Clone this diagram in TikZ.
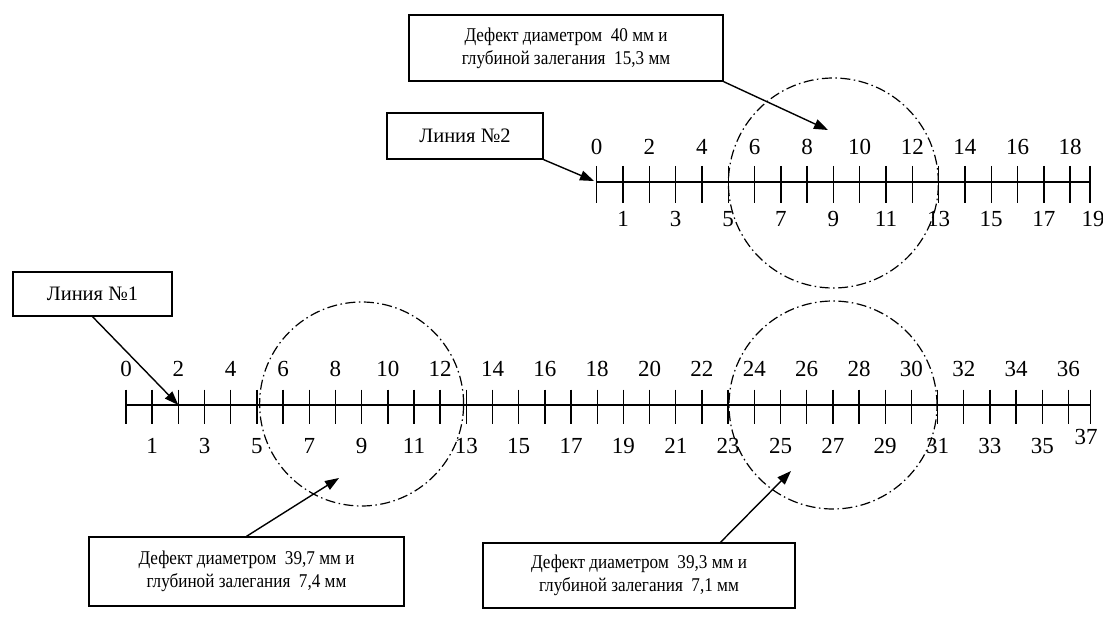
\documentclass[tikz,border=0pt]{standalone}
\usepackage{fontspec}
\setmainfont{Liberation Serif}
\newfontfamily\narrowserif[FakeStretch=0.88]{Liberation Serif}
\usetikzlibrary{arrows.meta,calc}
\begin{document}
\begin{tikzpicture}[x=1pt,y=-1pt,
  boxed/.style={draw,line width=1.3pt,inner sep=0pt,align=center,font=\narrowserif\fontsize{19.5}{23}\selectfont},
  linebox/.style={draw,line width=1.3pt,inner sep=0pt,align=center,font=\fontsize{20.5}{24}\selectfont},
  num/.style={inner sep=0pt,font=\fontsize{23}{27}\selectfont},
  tickline/.style={line width=1.4pt},
  axisline/.style={line width=1.8pt},
  arr/.style={line width=1.4pt,-{Triangle[length=14pt,width=10pt]}},
  zone/.style={draw,circle,inner sep=0pt,line width=1.2pt,dash pattern=on 10pt off 3.5pt on 1.5pt off 3.5pt}]
\useasboundingbox (0,0) rectangle (1103,628);

% ---- Line 2 ----
\foreach \i in {0,...,18}{
  \pgfmathsetmacro\xx{596.7+26.3*\i}
  \coordinate (b\i) at (\xx,182.3);
  \draw[tickline] (\xx,166) -- (\xx,203);
  \ifodd\i \node[num] (nb\i) at (\xx,219) {\i};\else \node[num] (nb\i) at (\xx,147) {\i};\fi
}
\coordinate (b19) at (1090,182.3);
\draw[tickline] (1090,166) -- (1090,203);
\node[num] (nb19) at (1093,219) {19};
\draw[axisline] (b0) -- (b19);

% ---- Line 1 ----
\foreach \i in {0,...,36}{
  \pgfmathsetmacro\xx{126+26.18*\i}
  \coordinate (a\i) at (\xx,405);
  \draw[tickline] (\xx,389.5) -- (\xx,424);
  \ifodd\i \node[num] (na\i) at (\xx,446) {\i};\else \node[num] (na\i) at (\xx,369) {\i};\fi
}
\coordinate (a37) at (1090.7,405);
\draw[tickline] (1090.7,389.5) -- (1090.7,424);
\node[num] (na37) at (1086,437) {37};
\draw[axisline] (a0) -- (a37);

% ---- defect zones ----
\node[zone,minimum size=210pt] (z2) at (833.4,183) {};
\node[zone,minimum size=204pt] (z1a) at (361.6,404) {};
\node[zone,minimum size=208pt] (z1b) at (833,405) {};

% ---- boxes ----
\node[boxed,minimum width=314pt,minimum height=66pt] (top) at (566,48)
  {Дефект диаметром\ \ 40 мм и\\глубиной залегания\ \ 15,3 мм};
\node[linebox,minimum width=156pt,minimum height=46pt] (l2) at (465,136) {Линия №2};
\node[linebox,minimum width=159pt,minimum height=44pt] (l1) at (92.5,294) {Линия №1};
\node[boxed,minimum width=315pt,minimum height=69pt] (d1) at (246.5,571.5)
  {Дефект диаметром\ \ 39,7 мм и\\глубиной залегания\ \ 7,4 мм};
\node[boxed,minimum width=312pt,minimum height=65pt] (d2) at (639,575.5)
  {Дефект диаметром\ \ 39,3 мм и\\глубиной залегания\ \ 7,1 мм};

% ---- arrows ----
\coordinate (tipTop) at (828,130);
\coordinate (tipL2) at (594,181);
\coordinate (tipD1) at (339,478);
\coordinate (tipD2) at (791,471);
\coordinate (startD2) at ($(d2.north west)!0.76!(d2.north east)$);
\draw[arr] (top.south east) -- (tipTop);
\draw[arr] (l2.south east) -- (tipL2);
\draw[arr] (l1.south) -- (a2);
\draw[arr] (d1.north) -- (tipD1);
\draw[arr] (startD2) -- (tipD2);
\end{tikzpicture}
\end{document}
